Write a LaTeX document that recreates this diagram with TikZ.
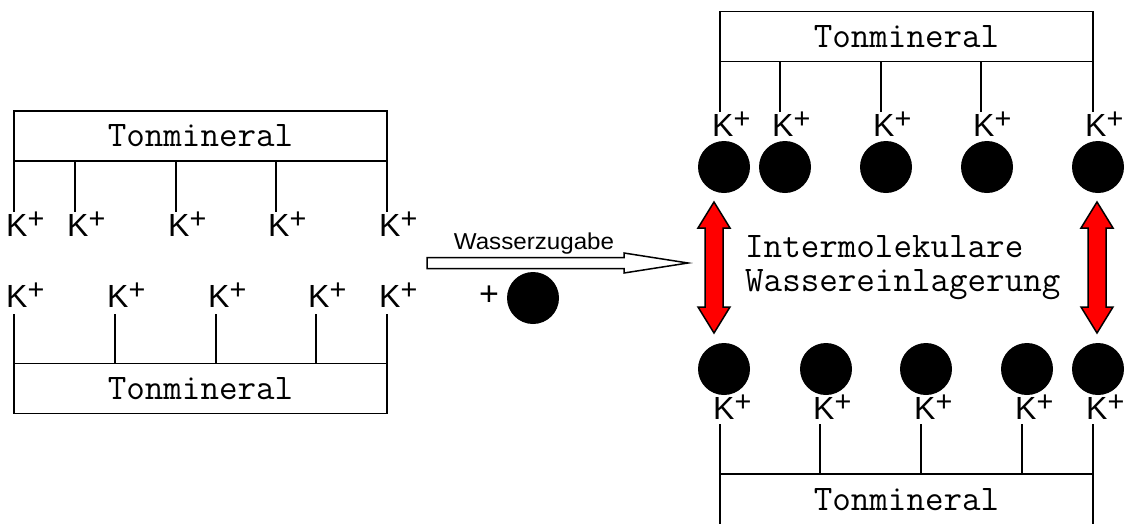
\documentclass[tikz,border=0pt]{standalone}
\usepackage{fontspec}
\setmainfont{Liberation Sans}
\usepackage{graphicx}
\usetikzlibrary{shapes.geometric, positioning, calc}

\newcommand{\Kplus}{K\raisebox{.25em}{\scalebox{.9}{+}}}

\tikzset{
    % box of the clay mineral
    clay/.style={
        rectangle,
        draw=black,
        line width=1.8pt,
        minimum width=373pt,
        minimum height=50pt,
        inner sep=0pt,
        font=\ttfamily\fontsize{36}{40}\selectfont
    },
    stem/.style={
        line width=1.8pt
    },
    ion/.style={
        inner sep=0pt,
        font=\fontsize{32}{36}\selectfont
    },
    water/.style={
        circle,
        fill=black,
        minimum size=52pt,
        inner sep=0pt
    },
    % arrows drawn as outlines
    gap/.style={
        draw=black,
        fill=red,
        line width=1.5pt
    },
    flow/.style={
        draw=black,
        fill=white,
        line width=1.5pt
    }
}

\begin{document}
\begin{tikzpicture}[x=1pt, y=-1pt]
    \clip (0,0) rectangle (1125,523);

    % left, upper layer
    \node[clay] (tmA) at (200.5,136) {Tonmineral};
    \foreach \x [count=\i] in {14,75,176,276,387} {
        \coordinate (sa\i) at (\x,212);
        \draw[stem] (sa\i) -- (sa\i |- tmA.south);
        \node[ion, anchor=north west, xshift=-8pt] (ka\i) at (sa\i) {\Kplus};
    }

    % left, lower layer
    \node[clay] (tmB) at (200.5,388.5) {Tonmineral};
    \foreach \x [count=\i] in {14,115,216,316,387} {
        \coordinate (sb\i) at (\x,314);
        \draw[stem] (sb\i) -- (sb\i |- tmB.north);
        \node[ion, anchor=base west, xshift=-8pt, yshift=7pt] (kb\i) at (sb\i) {\Kplus};
    }

    % right, upper layer
    \node[clay] (tmC) at (906.5,36.5) {Tonmineral};
    \foreach \x/\c [count=\i] in {720/724,780/785,881/886,981/987,1093/1098} {
        \coordinate (sc\i) at (\x,112);
        \draw[stem] (sc\i) -- (sc\i |- tmC.south);
        \node[ion, anchor=north west, xshift=-8pt] (kc\i) at (sc\i) {\Kplus};
        \node[water] (wc\i) at (\c,167) {};
    }

    % right, lower layer
    \node[clay, minimum height=52pt] (tmD) at (906.5,500) {Tonmineral};
    \foreach \x/\c [count=\i] in {720/724,820/826,921/926,1022/1027,1093/1098} {
        \coordinate (sd\i) at (\x,424);
        \draw[stem] (sd\i) -- (sd\i |- tmD.north);
        \node[ion, anchor=base west, xshift=-7pt, yshift=5pt] (kd\i) at (sd\i) {\Kplus};
        \node[water] (wd\i) at (\c,369) {};
    }

    % adding water
    \coordinate (addtail) at (427,263);
    \draw[flow] (addtail) ++(0,-5.5) -- ++(197,0) -- ++(0,-4.5) -- ++(64,10)
        -- ++(-64,10) -- ++(0,-4.5) -- ++(-197,0) -- cycle;
    \node[anchor=base, font=\fontsize{23}{25}\selectfont] (addlabel) at (534,249) {\scalebox{1.05}[1]{Wasserzugabe}};
    \node[inner sep=0pt, font=\fontsize{34}{36}\selectfont] (plus) at (489,296) {+};
    \node[water] (w0) at (533,298) {};

    % swelling
    \foreach \g/\x in {gapL/714,gapR/1097} {
        \coordinate (\g) at (\x,267.5);
        \draw[gap] (\g) ++(0,-65.5) -- ++(16,26) -- ++(-7,0) -- ++(0,79) -- ++(7,0)
            -- ++(-16,26) -- ++(-16,-26) -- ++(7,0) -- ++(0,-79) -- ++(-7,0) -- cycle;
    }
    \node[anchor=west, align=left, inner sep=0pt, font=\ttfamily\fontsize{36}{34}\selectfont] (swell) at (745,268) {Intermolekulare\\Wassereinlagerung};
\end{tikzpicture}
\end{document}
